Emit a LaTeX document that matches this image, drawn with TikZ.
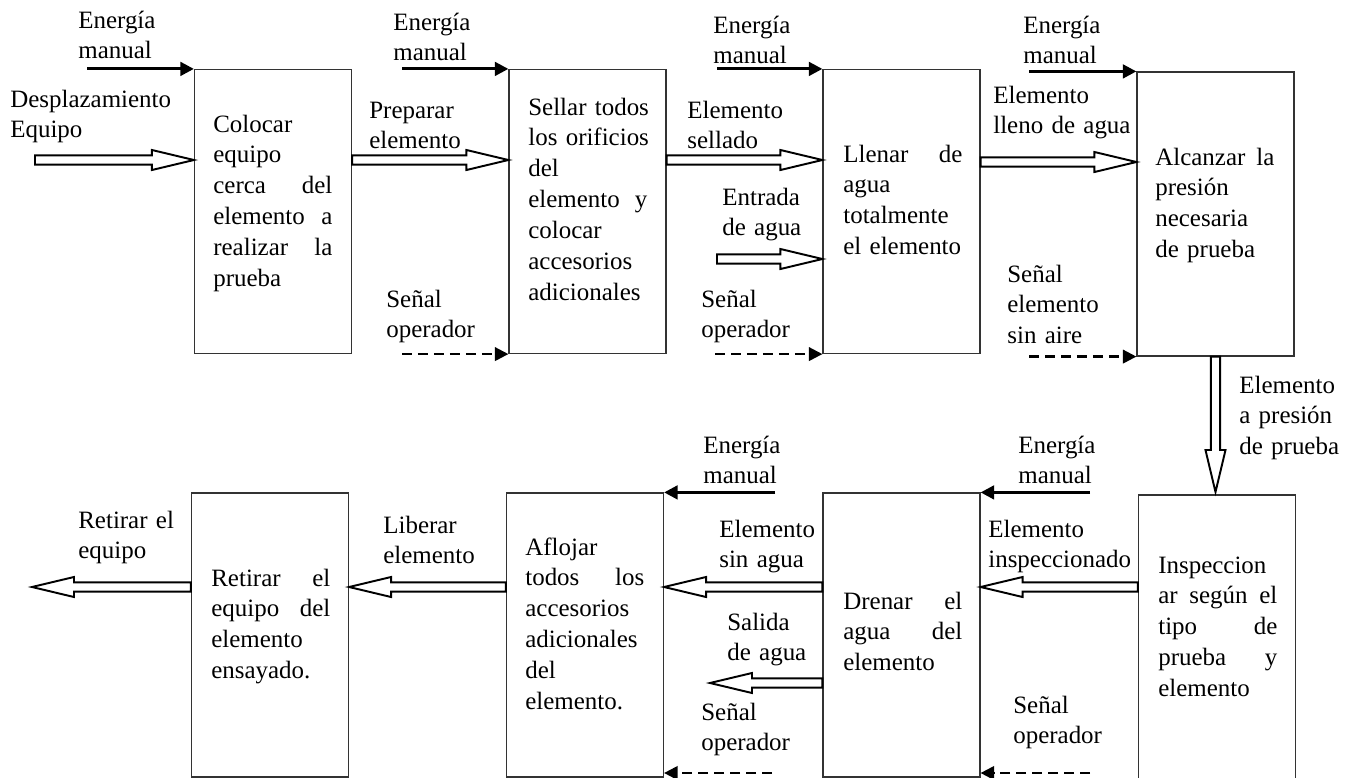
\documentclass[tikz,border=0pt]{standalone}
\usepackage{fontspec}
\setmainfont{Liberation Serif}
\usetikzlibrary{arrows.meta,calc}
\newcommand{\fs}{\fontsize{14.2}{17.6}\selectfont\hyphenpenalty=10000}
\newcommand{\arrshaft}{2.6pt}
\newcommand{\arrhead}{5.7pt}
\newcommand{\arrlen}{23.9pt}
\tikzset{
  box/.style={draw=black!80, line width=0.7pt, minimum width=3.14cm, minimum height=5.68cm, inner sep=0},
  intext/.style={text width=2.38cm, align=left, anchor=base west, inner sep=0, font=\fs},
  lbl/.style={text width=4cm, align=left, anchor=base west, inner sep=0, font=\fs},
  energy/.style={line width=1.7pt, -{Triangle[length=0.27cm,width=0.27cm]}},
  signal/.style={line width=1.3pt, dash pattern=on 0.2cm off 0.12cm, -{Triangle[length=0.27cm,width=0.27cm]}},
  hollow/.style={line width=1.1pt, to path={
    let \p1=(\tikztostart), \p2=(\tikztotarget),
        \n1={veclen(\x2-\x1,\y2-\y1)},
        \n2={(\x2-\x1)/\n1}, \n3={(\y2-\y1)/\n1}
    in ({\x1-\n3*\arrshaft},{\y1+\n2*\arrshaft})
    -- ({\x2-\n2*\arrlen-\n3*\arrshaft},{\y2-\n3*\arrlen+\n2*\arrshaft})
    -- ({\x2-\n2*\arrlen-\n3*\arrhead},{\y2-\n3*\arrlen+\n2*\arrhead})
    -- (\p2)
    -- ({\x2-\n2*\arrlen+\n3*\arrhead},{\y2-\n3*\arrlen-\n2*\arrhead})
    -- ({\x2-\n2*\arrlen+\n3*\arrshaft},{\y2-\n3*\arrlen-\n2*\arrshaft})
    -- ({\x1+\n3*\arrshaft},{\y1-\n2*\arrshaft}) -- cycle}}
}
\begin{document}
\begin{tikzpicture}[x=0.02cm, y=-0.02cm]
\useasboundingbox (0,0) rectangle (1350,778);
% boxes, top row
\node[box] (b1) at (273,211.5) {};
\node[box] (b2) at (587.5,211.5) {};
\node[box] (b3) at (901.5,211.5) {};
\node[box] (b4) at (1215.5,214) {};
% boxes, bottom row
\node[box] (b5) at (270,635) {};
\node[box] (b6) at (585,635) {};
\node[box] (b7) at (901.5,635) {};
\node[box] (b8) at (1217,637) {};

\node[intext] (t1) at (213,132) {Colocar\\ equipo\\ cerca \hfill del\\ elemento \hfill a\\ realizar \hfill la\\ prueba};
\node[intext] (t2) at (528,115) {\mbox{Sellar todos}\\ \mbox{los orificios}\\ del\\ elemento \hfill y\\ colocar\\ accesorios\\ adicionales};
\node[intext] (t3) at (843,162) {Llenar \hfill de\\ agua\\ totalmente\\ \mbox{el elemento}};
\node[intext] (t4) at (1155,165) {Alcanzar \hfill la\\ presión\\ necesaria\\ \mbox{de prueba}};
\node[intext] (t5) at (211,586) {Retirar \hfill el\\ equipo \hfill del\\ elemento\\ ensayado.};
\node[intext] (t6) at (525,555) {Aflojar\\ todos \hfill los\\ accesorios\\ adicionales\\ del\\ elemento.};
\node[intext] (t7) at (843,609) {Drenar \hfill el\\ agua \hfill del\\ elemento};
\node[intext] (t8) at (1158,573) {Inspeccion\\ ar \hfill según \hfill el\\ tipo \hfill de\\ prueba \hfill y\\ elemento};

% labels
\node[lbl] (em1) at (78,28) {Energía\\ manual};
\node[lbl] (em2) at (393,30) {Energía\\ manual};
\node[lbl] (em3) at (713,33) {Energía\\ manual};
\node[lbl] (em4) at (1023,33) {Energía\\ manual};
\node[lbl] (desp) at (10,107) {Desplazamiento\\ Equipo};
\node[lbl] (prep) at (369,118) {Preparar\\ elemento};
\node[lbl] (sell) at (687,118) {Elemento\\ sellado};
\node[lbl] (llen) at (993,103) {Elemento\\ lleno de agua};
\node[lbl] (entr) at (722,205) {Entrada\\ de agua};
\node[lbl] (so1) at (386,307) {Señal\\ operador};
\node[lbl] (so2) at (701,307) {Señal\\ operador};
\node[lbl] (saire) at (1007,282) {Señal\\ elemento\\ sin aire};
\node[lbl] (pres) at (1239,393) {Elemento\\ a presión\\ de prueba};
\node[lbl] (em5) at (703,453) {Energía\\ manual};
\node[lbl] (em6) at (1018,453) {Energía\\ manual};
\node[lbl] (ret) at (78,528) {Retirar el\\ equipo};
\node[lbl] (lib) at (383,533) {Liberar\\ elemento};
\node[lbl] (sinag) at (719,537) {Elemento\\ sin agua};
\node[lbl] (insp) at (988,537) {Elemento\\ inspeccionado};
\node[lbl] (sal) at (727,630) {Salida\\ de agua};
\node[lbl] (so3) at (701,720) {Señal\\ operador};
\node[lbl] (so4) at (1013,713) {Señal\\ operador};

% free ends
\coordinate (in1) at (35,160);
\coordinate (inw) at (717,259);
\coordinate (out1) at (32,587);
\coordinate (outw) at (710,683);

% top row
\draw[energy] (b1.north west -| 87,0) -- (b1.north west);
\draw[energy] (b2.north west -| 402,0) -- (b2.north west);
\draw[energy] (b3.north west -| 717,0) -- (b3.north west);
\draw[energy] (b4.north west -| 1029,0) -- (b4.north west);
\draw[hollow] (in1) to (b1.west |- in1);
\draw[hollow] (b1.east |- 0,160) to (b2.west |- 0,160);
\draw[hollow] (b2.east |- 0,160) to (b3.west |- 0,160);
\draw[hollow] (b3.east |- 0,162) to (b4.west |- 0,162);
\draw[hollow] (inw) to (b3.west |- inw);
\draw[signal] (b2.south west -| 402,0) -- (b2.south west);
\draw[signal] (b3.south west -| 715,0) -- (b3.south west);
\draw[signal] (b4.south west -| 1029,0) -- (b4.south west);
\draw[hollow] (b4.south) to (b4.south |- 0,492);

% bottom row
\draw[energy] (b6.north east -| 775,0) -- (b6.north east);
\draw[energy] (b7.north east -| 1090,0) -- (b7.north east);
\draw[hollow] (b8.west |- 0,587) to (b7.east |- 0,587);
\draw[hollow] (b7.west |- 0,587) to (b6.east |- 0,587);
\draw[hollow] (b6.west |- 0,587) to (b5.east |- 0,587);
\draw[hollow] (b5.west |- out1) to (out1);
\draw[hollow] (b7.west |- outw) to (outw);
\draw[signal] (772,773) -- (b6.east |- 0,773);
\draw[signal] (1090,773) -- (b7.east |- 0,773);
\end{tikzpicture}
\end{document}
